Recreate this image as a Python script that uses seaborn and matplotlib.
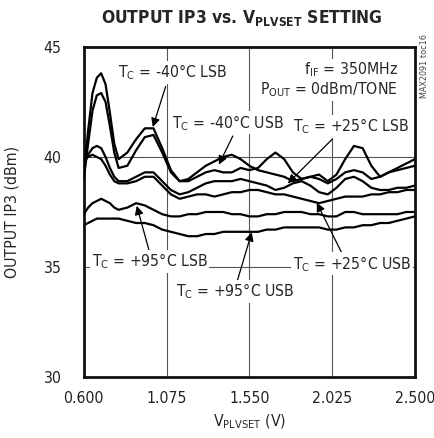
import numpy as np
import pandas as pd
import matplotlib
matplotlib.use('Agg')
import matplotlib.pyplot as plt
import seaborn as sns

# supply voltage setting (V)
vset = [0.600, 0.625, 0.650, 0.675, 0.700, 0.725, 0.750, 0.775, 0.800, 0.850,
        0.900, 0.950, 1.000, 1.050, 1.100, 1.150, 1.200, 1.250, 1.300, 1.350,
        1.400, 1.450, 1.500, 1.550, 1.600, 1.650, 1.700, 1.750, 1.800, 1.850,
        1.900, 1.950, 2.000, 2.050, 2.100, 2.150, 2.200, 2.250, 2.300, 2.350,
        2.400, 2.450, 2.500]

# output IP3 (dBm) per curve
ip3_m40_lsb = [39.2, 41.2, 42.9, 43.6, 43.8, 43.3, 42.0, 40.6, 39.9, 40.2, 40.8, 41.3, 41.3, 40.4, 39.4,
               38.9, 38.9, 39.1, 39.3, 39.4, 39.3, 39.3, 39.5, 39.4, 39.5, 39.9, 40.2, 39.9, 39.3, 39.0,
               39.1, 39.2, 38.9, 39.2, 39.9, 40.5, 40.4, 39.6, 39.1, 39.3, 39.5, 39.7, 39.9]
ip3_m40_usb = [39.0, 40.6, 42.1, 42.8, 42.9, 42.5, 41.4, 40.2, 39.5, 39.6, 40.3, 40.9, 41.0, 40.2, 39.3,
               38.9, 39.0, 39.3, 39.6, 39.8, 40.0, 40.1, 39.9, 39.6, 39.4, 39.3, 39.2, 39.1, 38.9, 39.0,
               39.1, 39.0, 38.8, 39.0, 39.3, 39.4, 39.3, 39.0, 39.1, 39.3, 39.4, 39.5, 39.6]
ip3_p25_lsb = [39.6, 40.1, 40.4, 40.5, 40.4, 40.0, 39.5, 39.1, 38.9, 38.9, 39.1, 39.3, 39.3, 38.9, 38.5,
               38.3, 38.4, 38.6, 38.8, 38.9, 38.9, 38.9, 39.0, 38.9, 38.8, 38.7, 38.5, 38.6, 38.8, 38.9,
               38.7, 38.4, 38.3, 38.6, 39.0, 39.1, 38.9, 38.6, 38.5, 38.5, 38.6, 38.6, 38.7]
ip3_p25_usb = [39.9, 40.0, 40.1, 40.0, 39.9, 39.6, 39.2, 38.9, 38.8, 38.8, 38.9, 39.1, 39.1, 38.7, 38.3,
               38.1, 38.2, 38.3, 38.3, 38.2, 38.3, 38.4, 38.4, 38.5, 38.5, 38.4, 38.3, 38.3, 38.2, 38.1,
               38.0, 37.9, 38.0, 38.1, 38.2, 38.2, 38.2, 38.3, 38.3, 38.4, 38.4, 38.5, 38.5]
ip3_p95_lsb = [37.4, 37.7, 37.9, 38.0, 38.1, 38.0, 37.9, 37.7, 37.6, 37.7, 37.9, 37.8, 37.6, 37.4, 37.3,
               37.3, 37.4, 37.4, 37.5, 37.5, 37.5, 37.4, 37.4, 37.3, 37.3, 37.4, 37.4, 37.5, 37.5, 37.5,
               37.4, 37.4, 37.3, 37.3, 37.5, 37.5, 37.4, 37.4, 37.4, 37.4, 37.4, 37.5, 37.5]
ip3_p95_usb = [36.9, 37.0, 37.1, 37.2, 37.2, 37.2, 37.2, 37.2, 37.2, 37.1, 37.0, 37.0, 36.9, 36.7, 36.6,
               36.5, 36.4, 36.4, 36.5, 36.5, 36.6, 36.6, 36.6, 36.6, 36.6, 36.7, 36.7, 36.8, 36.8, 36.8,
               36.8, 36.8, 36.7, 36.7, 36.8, 36.8, 36.9, 36.9, 37.0, 37.0, 37.1, 37.2, 37.3]

curves = {'-40 LSB': ip3_m40_lsb, '-40 USB': ip3_m40_usb, '+25 LSB': ip3_p25_lsb,
          '+25 USB': ip3_p25_usb, '+95 LSB': ip3_p95_lsb, '+95 USB': ip3_p95_usb}

xticks = [0.600, 1.075, 1.550, 2.025, 2.500]
yticks = [30, 35, 40, 45]

df = pd.concat([pd.DataFrame({'v': vset, 'ip3': vals, 'curve': name})
                for name, vals in curves.items()], ignore_index=True)

sns.set_style('white')
plt.rcParams['font.family'] = ['DejaVu Sans']
plt.rcParams['font.stretch'] = 'condensed'
plt.rcParams['mathtext.fontset'] = 'custom'
plt.rcParams['mathtext.rm'] = 'DejaVu Sans:stretch=condensed'
plt.rcParams['mathtext.bf'] = 'DejaVu Sans:bold:stretch=condensed'

fs = 11.3

fig = plt.figure(figsize=(4.34, 4.38), dpi=100)
ax = fig.add_axes([0.193, 0.139, 0.763, 0.754])

# grid lines (drawn under labels)
for xv in xticks[1:-1]:
    ax.axvline(xv, color='#555555', lw=0.8, zorder=1)
for yv in [35, 40]:
    ax.axhline(yv, color='#555555', lw=0.8, zorder=1)

sns.lineplot(data=df, x='v', y='ip3', hue='curve', palette=['black'] * 6,
             legend=False, lw=1.6, ax=ax, zorder=3)

ax.set_xlim(0.6, 2.5)
ax.set_ylim(30, 45)
ax.set_xticks(xticks)
ax.set_xticklabels(['%.3f' % t for t in xticks])
ax.set_yticks(yticks)
ax.tick_params(length=0, labelsize=fs, colors='#222222')
ax.tick_params(axis='y', pad=16)
ax.tick_params(axis='x', pad=10)
for s in ax.spines.values():
    s.set_linewidth(2)
    s.set_color('#111111')

ax.set_xlabel(r'V$_{\mathrm{PLVSET}}$ (V)', fontsize=fs, labelpad=5)
ax.set_ylabel('OUTPUT IP3 (dBm)', fontsize=fs, labelpad=17)
fig.text(0.557, 0.958, r'OUTPUT IP3 vs. V$_{\mathbf{PLVSET}}$ SETTING', fontsize=12.5,
         fontweight='bold', ha='center', va='center')
fig.text(0.978, 0.85, 'MAX2091 toc16', rotation=90, fontsize=6.5, color='#444444',
         ha='center', va='center')

box = dict(boxstyle='square,pad=0.1', fc='white', ec='none')
arrow = dict(arrowstyle='-|>', color='black', lw=0.9, mutation_scale=13, shrinkA=0, shrinkB=0)

labels = [
    (r'T$_{\mathrm{C}}$ = -40°C LSB', (1.111, 43.85), (0.996, 41.36), (1.070, 43.2)),
    (r'T$_{\mathrm{C}}$ = -40°C USB', (1.427, 41.55), (1.375, 39.65), (1.455, 40.95)),
    (r'T$_{\mathrm{C}}$ = +25°C LSB', (2.133, 41.4), (1.771, 38.8), (2.025, 40.8)),
    (r'T$_{\mathrm{C}}$ = +95°C LSB', (0.979, 35.25), (0.904, 37.78), (0.980, 35.6)),
    (r'T$_{\mathrm{C}}$ = +95°C USB', (1.472, 33.9), (1.564, 36.58), (1.480, 34.35)),
    (r'T$_{\mathrm{C}}$ = +25°C USB', (2.139, 35.15), (1.937, 37.92), (2.086, 35.55)),
]
for txt, pos, tip, start in labels:
    ax.annotate('', xy=tip, xytext=start, arrowprops=arrow, zorder=4)
    ax.text(pos[0], pos[1], txt, fontsize=fs, ha='center', va='center', bbox=box, zorder=5)

ax.text(2.402, 43.95, r'f$_{\mathrm{IF}}$ = 350MHz', fontsize=fs, ha='right', va='center',
        bbox=box, zorder=5)
ax.text(2.402, 43.05, r'P$_{\mathrm{OUT}}$ = 0dBm/TONE', fontsize=fs, ha='right', va='center',
        bbox=box, zorder=5)

fig.savefig('out.png', dpi=100)
